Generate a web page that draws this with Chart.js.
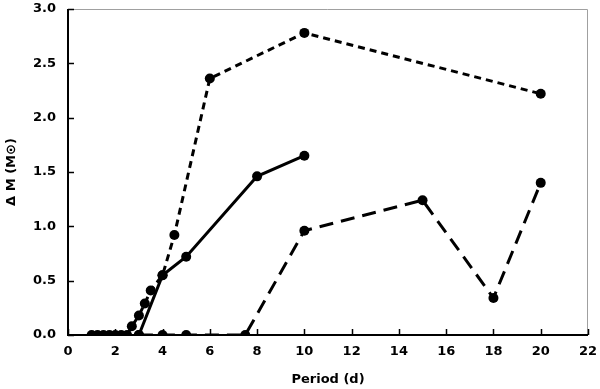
<!DOCTYPE html>
<html>
<head>
<meta charset="utf-8">
<script src="https://cdn.jsdelivr.net/npm/chart.js@4/dist/chart.umd.min.js"></script>
<style>
  html, body { margin: 0; padding: 0; background: #fff; }
  #wrap { width: 600px; height: 389px; }
</style>
</head>
<body>
<div id="wrap"><canvas id="chart"></canvas></div>
<script>
// values
const shortDashX = [1.0, 1.25, 1.5, 1.75, 2.0, 2.25, 2.5, 2.7, 3.0, 3.25, 3.5, 4.0, 4.5, 6, 10, 20];
const shortDashY = [0, 0, 0, 0, 0, 0, 0, 0.08, 0.18, 0.29, 0.41, 0.55, 0.92, 2.36, 2.78, 2.22];

const solidX = [3, 4, 5, 8, 10];
const solidY = [0, 0.55, 0.72, 1.46, 1.65];

const longDashX = [3, 4, 5, 7.5, 10, 15, 18, 20];
const longDashY = [0, 0, 0, 0, 0.96, 1.24, 0.34, 1.40];

const xTicks = [0, 2, 4, 6, 8, 10, 12, 14, 16, 18, 20, 22];
const yTicks = [0, 0.5, 1.0, 1.5, 2.0, 2.5, 3.0];

const toPts = (xs, ys) => xs.map((x, i) => ({ x: x, y: ys[i] }));

const font = { family: 'DejaVu Sans', weight: 'bold', size: 13 };

function series(xs, ys, dash) {
  return {
    data: toPts(xs, ys),
    showLine: true,
    borderColor: '#000',
    backgroundColor: '#000',
    borderWidth: 3,
    borderDash: dash,
    pointRadius: 5,
    pointBackgroundColor: '#000',
    pointBorderWidth: 0,
    tension: 0
  };
}

// inward tick marks and the grey frame on top/right
const frame = {
  id: 'frame',
  afterDatasetsDraw(chart) {
    const c = chart.ctx, a = chart.chartArea;
    const xs = chart.scales.x, ys = chart.scales.y;
    c.save();
    c.strokeStyle = '#a0a0a0';
    c.lineWidth = 1;
    c.beginPath();
    c.moveTo(a.left, a.top + 0.5);
    c.lineTo(a.right - 0.5, a.top + 0.5);
    c.lineTo(a.right - 0.5, a.bottom);
    c.stroke();
    c.strokeStyle = '#000';
    c.lineWidth = 2;
    c.beginPath();
    c.moveTo(a.left, a.top);
    c.lineTo(a.left, a.bottom);
    c.lineTo(a.right, a.bottom);
    c.stroke();
    c.lineWidth = 1.5;
    c.beginPath();
    xTicks.forEach(v => {
      const px = Math.round(xs.getPixelForValue(v)) + 0.5;
      c.moveTo(px, a.bottom);
      c.lineTo(px, a.bottom - 6);
    });
    yTicks.forEach(v => {
      const py = Math.round(ys.getPixelForValue(v)) + 0.5;
      c.moveTo(a.left, py);
      c.lineTo(a.left + 6, py);
    });
    c.stroke();
    c.restore();
  }
};

new Chart(document.getElementById('chart'), {
  type: 'scatter',
  data: {
    datasets: [
      series(longDashX, longDashY, [14, 8]),
      series(solidX, solidY, []),
      series(shortDashX, shortDashY, [7, 5])
    ]
  },
  options: {
    responsive: true,
    maintainAspectRatio: false,
    animation: false,
    layout: { padding: { left: 0, right: 12, top: 9, bottom: 0 } },
    plugins: {
      legend: { display: false },
      tooltip: { enabled: false }
    },
    scales: {
      x: {
        type: 'linear',
        min: 0,
        max: 22,
        afterBuildTicks: s => { s.ticks = xTicks.map(v => ({ value: v })); },
        afterFit: s => { s.height = 54; s.paddingLeft = 0; s.paddingRight = 0; },
        grid: { display: false, drawTicks: false },
        border: { display: false },
        ticks: { color: '#000', font: font, padding: 9, maxRotation: 0 },
        title: { display: true, text: 'Period (d)', color: '#000', font: font, padding: { top: 2, bottom: 2 } }
      },
      y: {
        type: 'linear',
        min: 0,
        max: 3,
        afterBuildTicks: s => { s.ticks = yTicks.map(v => ({ value: v })); },
        afterFit: s => { s.width = 68; s.paddingTop = 0; s.paddingBottom = 0; },
        grid: { display: false, drawTicks: false },
        border: { display: false },
        ticks: { color: '#000', font: font, padding: 12, callback: v => v.toFixed(1) },
        title: { display: true, text: 'Δ M (M\u2299)', color: '#000', font: font, padding: { top: 4, bottom: 4 } }
      }
    }
  },
  plugins: [frame]
});
</script>
</body>
</html>
